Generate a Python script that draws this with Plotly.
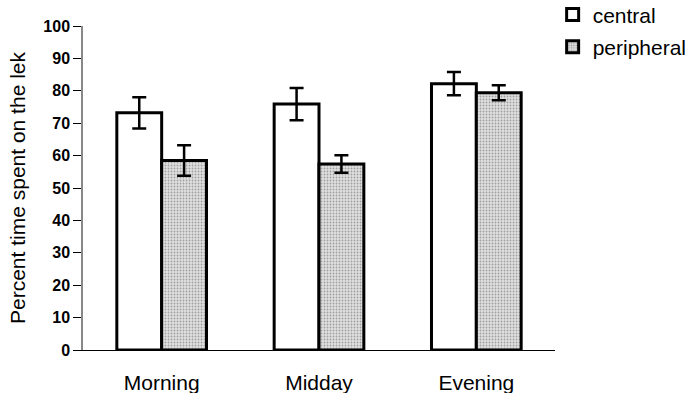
import plotly.graph_objects as go

categories = ["Morning", "Midday", "Evening"]
central = [73.2, 75.9, 82.2]
central_err = [4.8, 5.0, 3.6]
peripheral = [58.5, 57.4, 79.4]
peripheral_err = [4.7, 2.7, 2.3]
y_ticks = [0, 10, 20, 30, 40, 50, 60, 70, 80, 90, 100]

font = "Liberation Sans, Arial, sans-serif"

fig = go.Figure()
fig.add_trace(go.Bar(
    name="central", x=categories, y=central, legendgroup="a",
    marker=dict(color="white", line=dict(color="black", width=3)),
    error_y=dict(type="data", array=central_err, color="black", thickness=2.5, width=7),
))
fig.add_trace(go.Bar(
    name="peripheral", x=categories, y=peripheral, legendgroup="b",
    marker=dict(color="#d0d0d0", line=dict(color="black", width=3),
                pattern=dict(shape=".", fgcolor="#606060", bgcolor="#e0e0e0", size=3, solidity=0.3)),
    error_y=dict(type="data", array=peripheral_err, color="black", thickness=2.5, width=7),
))

fig.update_layout(
    width=690, height=393,
    margin=dict(l=83, r=135, t=26, b=43, autoexpand=False),
    paper_bgcolor="white", plot_bgcolor="white",
    barmode="group", bargap=0.43, bargroupgap=0,
    font=dict(family=font, color="black", size=15),
    showlegend=True,
    legend=dict(x=0.995, y=1.098, xanchor="left", yanchor="top",
                traceorder="grouped",
                font=dict(size=21, family=font), itemwidth=30, tracegroupgap=2,
                bgcolor="rgba(0,0,0,0)"),
    xaxis=dict(showline=True, linecolor="black", linewidth=1, ticks="outside", ticklen=14,
               tickcolor="rgba(0,0,0,0)",
               tickfont=dict(size=21), showgrid=False),
    yaxis=dict(range=[0, 100], tickvals=y_ticks, showline=True, linecolor="#888", linewidth=1.5,
               ticks="outside", ticklen=8, tickcolor="black", showgrid=False, zeroline=False,
               tickfont=dict(size=16, weight="bold"),
               title=dict(text="Percent time spent on the lek", font=dict(size=21), standoff=12)),
)

fig.write_html("out.html", config={"displayModeBar": False},
               post_script="document.body.style.margin='0';document.body.style.overflow='hidden';")
